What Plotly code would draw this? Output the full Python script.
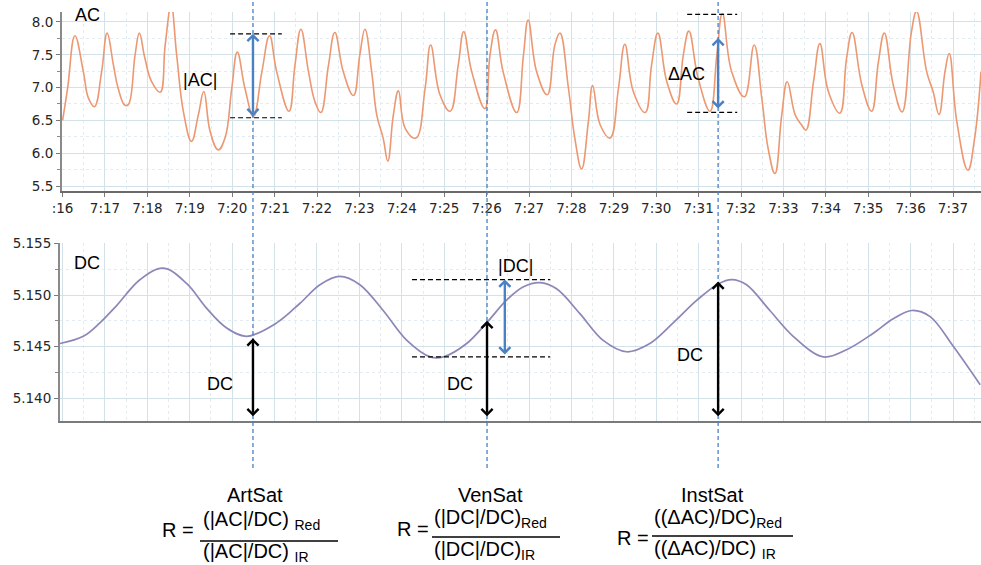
import plotly.graph_objects as go

W, H = 981, 565

# ---------------- data (time = minutes after 7:00) ----------------
ac_time = [16.00, 16.12, 16.29, 16.49, 16.61, 16.75, 16.92, 17.05, 17.20, 17.31, 17.47, 17.55,
           17.71, 17.81, 17.94, 18.10, 18.30, 18.42, 18.56, 18.69, 18.85, 19.04, 19.20, 19.33,
           19.48, 19.67, 19.83, 19.99, 20.12, 20.30, 20.50, 20.70, 20.88, 21.05, 21.34, 21.48,
           21.62, 21.80, 21.95, 22.09, 22.27, 22.42, 22.62, 22.86, 23.01, 23.13, 23.29, 23.41,
           23.56, 23.67, 23.80, 23.92, 24.08, 24.33, 24.55, 24.68, 24.90, 25.14, 25.33, 25.46,
           25.65, 25.96, 26.08, 26.21, 26.39, 26.71, 26.87, 26.98, 27.18, 27.43, 27.61, 27.73,
           27.93, 28.08, 28.24, 28.40, 28.50, 28.68, 28.91, 29.11, 29.26, 29.46, 29.74, 29.89,
           30.04, 30.25, 30.48, 30.64, 30.77, 30.99, 31.27, 31.43, 31.56, 31.78, 32.08, 32.31,
           32.49, 32.64, 32.80, 32.96, 33.09, 33.28, 33.43, 33.53, 33.71, 33.86, 34.06, 34.33,
           34.49, 34.62, 34.85, 35.08, 35.24, 35.38, 35.59, 35.80, 36.02, 36.14, 36.38, 36.53,
           36.67, 36.81, 36.91, 37.09, 37.35, 37.51, 37.66]
ac_value = [6.50, 7.00, 7.79, 7.24, 6.84, 6.71, 7.24, 7.83, 7.34, 6.99, 6.73, 6.74,
            7.50, 7.83, 7.45, 7.09, 6.93, 7.65, 8.25, 7.50, 6.63, 6.18, 6.58, 6.94,
            6.33, 6.05, 6.23, 6.99, 7.54, 6.99, 6.56, 7.24, 7.79, 7.24, 6.64, 7.34,
            7.89, 7.24, 6.79, 6.62, 7.34, 7.84, 7.24, 6.88, 7.50, 7.89, 7.24, 6.58,
            6.23, 5.88, 6.58, 6.95, 6.38, 6.23, 6.99, 7.65, 6.89, 6.64, 7.34, 7.85,
            7.24, 6.68, 7.50, 7.88, 7.24, 6.62, 7.50, 8.03, 7.24, 6.89, 7.65, 7.83,
            6.99, 6.23, 5.76, 6.48, 7.03, 6.43, 6.23, 6.99, 7.66, 6.94, 6.62, 7.34,
            7.83, 7.09, 6.75, 7.50, 7.86, 7.14, 6.64, 7.50, 8.13, 7.24, 6.86, 7.65,
            6.84, 6.07, 5.69, 6.58, 7.09, 6.58, 6.43, 6.35, 7.09, 7.67, 6.94, 6.61,
            7.45, 7.84, 7.04, 6.64, 7.39, 7.83, 7.04, 6.63, 7.85, 8.16, 7.24, 6.94,
            6.59, 7.24, 7.52, 6.48, 5.74, 6.23, 7.24]

dc_time = [15.94, 16.49, 16.88, 17.28, 17.83, 18.38, 18.93, 19.40, 19.87, 20.34, 21.05,
           21.60, 22.07, 22.54, 23.01, 23.56, 24.12, 24.67, 24.98, 25.53, 26.00, 26.47,
           26.87, 27.26, 27.65, 28.20, 28.75, 29.30, 29.85, 30.40, 30.96, 31.47, 31.78,
           32.13, 32.68, 33.23, 33.94, 34.49, 35.12, 35.59, 36.03, 36.46, 37.01, 37.64]
dc_value = [5.1453, 5.1460, 5.1473, 5.1490, 5.1515, 5.1526, 5.1511, 5.1487, 5.1468, 5.1460, 5.1473,
            5.1492, 5.1510, 5.1518, 5.1510, 5.1485, 5.1456, 5.1440, 5.1440, 5.1453, 5.1473, 5.1495,
            5.1508, 5.1512, 5.1506, 5.1482, 5.1456, 5.1445, 5.1453, 5.1473, 5.1495, 5.1511, 5.1515,
            5.1510, 5.1485, 5.1460, 5.1440, 5.1447, 5.1463, 5.1477, 5.1485, 5.1479, 5.1450, 5.1413]

tick_minutes = [16, 17, 18, 19, 20, 21, 22, 23, 24, 25, 26, 27, 28, 29, 30, 31, 32, 33, 34, 35, 36, 37]
tick_labels = [':16', '7:17', '7:18', '7:19', '7:20', '7:21', '7:22', '7:23', '7:24', '7:25', '7:26',
               '7:27', '7:28', '7:29', '7:30', '7:31', '7:32', '7:33', '7:34', '7:35', '7:36', '7:37']

# instants used for the three saturation computations (ArtSat, VenSat, InstSat)
marker_times = [20.49, 26.01, 31.46]
ac_art_span = [6.54, 7.82]      # |AC|
ac_inst_span = [6.623, 8.117]   # ΔAC (dashed reference levels)
ac_inst_arrow = [6.66, 7.756]
dc_ven_span = [5.1440, 5.1515]  # |DC|
dc_levels = [5.1458, 5.1475, 5.1513]  # DC at each instant
dc_floor = 5.1381

# ---------------- helpers ----------------
def px(x):
    return x / W

def py(y):
    return 1 - y / H

TXT = "Liberation Sans, Arial, sans-serif"
TICKFONT = dict(family="DejaVu Sans, Verdana, sans-serif", size=13.5, color="#262626")
BLUE = "#4a80c4"
GRID = "#d3e2e8"
MGRID = "#e3edf1"

fig = go.Figure()
fig.add_trace(go.Scatter(x=ac_time, y=ac_value, mode="lines", xaxis="x", yaxis="y",
                         line=dict(color="#ec9872", width=1.6, shape="spline", smoothing=1.2),
                         showlegend=False, hoverinfo="skip"))
fig.add_trace(go.Scatter(x=dc_time, y=dc_value, mode="lines", xaxis="x2", yaxis="y2",
                         line=dict(color="#8d86b8", width=1.7, shape="spline", smoothing=1.0),
                         showlegend=False, hoverinfo="skip"))

axis_common = dict(showline=True, zeroline=False, showgrid=True, gridcolor=GRID, gridwidth=1,
                   ticklen=4, tickcolor="#7a7a7a", tickfont=TICKFONT, automargin=False)

fig.update_layout(
    width=W, height=H, margin=dict(l=0, r=0, t=0, b=0, autoexpand=False),
    paper_bgcolor="white", plot_bgcolor="white",
    xaxis=dict(domain=[px(62), 1], range=[15.986, 37.66], anchor="y",
               tickmode="array", tickvals=tick_minutes, ticktext=tick_labels, ticks="outside",
               linecolor="#6a6a6a", linewidth=2,
               minor=dict(tickmode="linear", tick0=16.5, dtick=0.5, showgrid=True,
                          gridcolor=MGRID, griddash="dot", ticks=""),
               **axis_common),
    yaxis=dict(domain=[py(191), py(12)], range=[5.424, 8.152], anchor="x",
               tick0=5.5, dtick=0.5, tickformat=".1f", ticks="outside",
               linecolor="#8a8a8a", linewidth=2,
               minor=dict(dtick=0.25, tick0=5.5, ticks="outside", ticklen=3, tickcolor="#8a8a8a",
                          showgrid=True, gridcolor=MGRID, griddash="dot"),
               **axis_common),
    xaxis2=dict(domain=[px(60), 1], range=[15.939, 37.66], anchor="y2",
                tickmode="linear", tick0=16, dtick=1, showticklabels=False, ticks="",
                linecolor="#7a7a7a", linewidth=2,
                minor=dict(tickmode="linear", tick0=16.5, dtick=0.5, showgrid=True,
                           gridcolor=MGRID, griddash="dot", ticks=""),
                **axis_common),
    yaxis2=dict(domain=[py(421), py(243)], range=[5.13779, 5.15504], anchor="x2",
                tick0=5.14, dtick=0.005, tickformat=".3f", ticks="outside",
                linecolor="#8a8a8a", linewidth=2,
                minor=dict(dtick=0.0025, tick0=5.14, ticks="outside", ticklen=3, tickcolor="#8a8a8a",
                           showgrid=True, gridcolor=MGRID, griddash="dot"),
                **axis_common),
)

shapes = []
# vertical blue dashed marker lines spanning both panels
for t in marker_times:
    shapes.append(dict(type="line", xref="x", yref="paper", x0=t, x1=t, y0=py(468), y1=1,
                       line=dict(color=BLUE, width=1.3, dash="4px,3px"), layer="above"))

def hdash(xref, yref, xa, xb, y):
    return dict(type="line", xref=xref, yref=yref, x0=xa, x1=xb, y0=y, y1=y,
                line=dict(color="black", width=1.2, dash="5px,3px"), layer="above")

for y in ac_art_span:
    shapes.append(hdash("x", "y", 19.95, 21.17, y))
for y in ac_inst_span:
    shapes.append(hdash("x", "y", 30.73, 31.91, y))
for y in dc_ven_span:
    shapes.append(hdash("x2", "y2", 24.24, 27.50, y))

# formula fraction bars (paper coordinates)
for xa, xb, yl in [(200, 338, 541), (432, 560, 537), (652, 793, 536)]:
    shapes.append(dict(type="line", xref="paper", yref="paper", x0=px(xa), x1=px(xb),
                       y0=py(yl), y1=py(yl), line=dict(color="black", width=1.3)))

fig.update_layout(shapes=shapes)

ann = []

def darrow(x, ya, yb, xref, yref, color):
    return dict(x=x, y=yb, ax=x, ay=ya, xref=xref, yref=yref, axref=xref, ayref=yref,
                text="", showarrow=True, arrowside="end+start",
                arrowhead=4, startarrowhead=4, arrowsize=0.9, startarrowsize=0.9,
                arrowwidth=2.4, arrowcolor=color, standoff=0, startstandoff=0)

ann.append(darrow(marker_times[0], ac_art_span[0], ac_art_span[1], "x", "y", BLUE))
ann.append(darrow(marker_times[2], ac_inst_arrow[0], ac_inst_arrow[1], "x", "y", BLUE))
ann.append(darrow(26.43, dc_ven_span[0] + 0.0001, dc_ven_span[1], "x2", "y2", BLUE))
for t, lvl in zip(marker_times, dc_levels):
    ann.append(darrow(t, dc_floor, lvl, "x2", "y2", "black"))

def label(x, y, text, xref, yref, size=18):
    return dict(x=x, y=y, xref=xref, yref=yref, text=text, showarrow=False,
                xanchor="center", yanchor="middle",
                font=dict(family=TXT, size=size, color="black"))

ann += [
    label(16.58, 8.107, "AC", "x", "y"),
    label(19.24, 7.116, "|AC|", "x", "y"),
    label(30.71, 7.207, "ΔAC", "x", "y"),
    label(16.58, 5.1531, "DC", "x2", "y2"),
    label(26.67, 5.1528, "|DC|", "x2", "y2"),
    label(19.71, 5.14138, "DC", "x2", "y2"),
    label(25.37, 5.14138, "DC", "x2", "y2"),
    label(30.80, 5.14419, "DC", "x2", "y2"),
]

def ptext(x, y, text, xanchor="left", size=20):
    return dict(x=px(x), y=py(y), xref="paper", yref="paper", text=text, showarrow=False,
                xanchor=xanchor, yanchor="middle", font=dict(family=TXT, size=size, color="black"))

formulas = [
    # title, title_x, R_right, R_y, frac_left, num_y, den_y, numerator, denominator
    ("ArtSat", 255, 196, 530, 201, 520, 552, "(|AC|/DC) <sub>Red</sub>", "(|AC|/DC) <sub>IR</sub>"),
    ("VenSat", 490, 431, 529, 432, 518, 550, "(|DC|/DC)<sub>Red</sub>", "(|DC|/DC)<sub>IR</sub>"),
    ("InstSat", 712, 651, 538, 652, 518, 549, "((ΔAC)/DC)<sub>Red</sub>", "((ΔAC)/DC) <sub>IR</sub>"),
]
for title, tx, rx, ry, fx, ny, dy, num, den in formulas:
    ann.append(ptext(tx, 495, title, xanchor="center"))
    ann.append(ptext(rx, ry, "R =", xanchor="right"))
    ann.append(ptext(fx, ny, num))
    ann.append(ptext(fx, dy, den))

fig.update_layout(annotations=ann)

fig.write_html("out.html", config={"displayModeBar": False},
               post_script="document.body.style.margin='0px';document.body.style.overflow='hidden';")
